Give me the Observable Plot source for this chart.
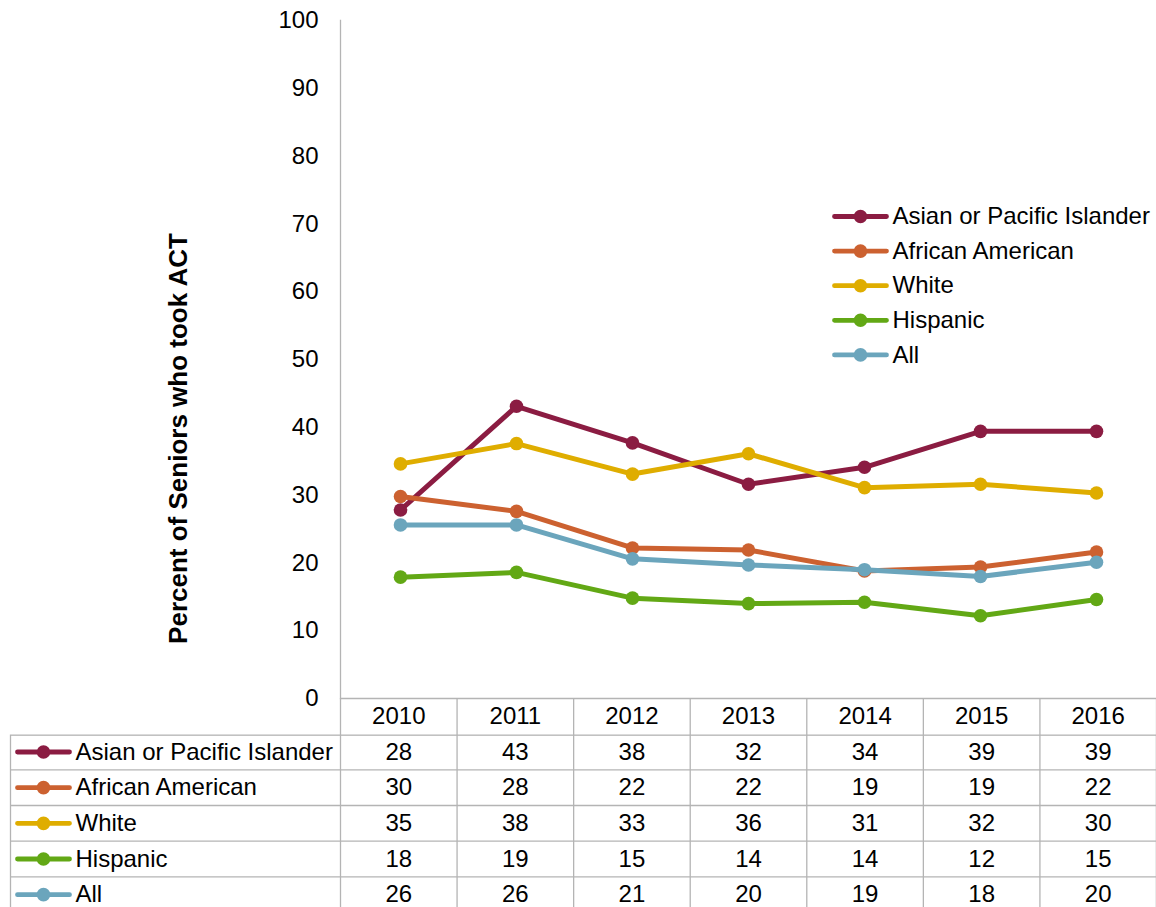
<!DOCTYPE html>
<html>
<head>
<meta charset="utf-8">
<script src="https://cdn.jsdelivr.net/npm/d3@7"></script>
<script src="https://cdn.jsdelivr.net/npm/@observablehq/plot@0.6"></script>
<style>
  html, body { margin: 0; padding: 0; background: #fff; overflow: hidden; }
  #chart svg, #table svg { display: block; }
</style>
</head>
<body>
<div id="chart"></div>
<div id="table"></div>
<script>
// ---- data ----
const years = [2010, 2011, 2012, 2013, 2014, 2015, 2016];
const groups = ["Asian or Pacific Islander", "African American", "White", "Hispanic", "All"];
const colors = ["#8B1C42", "#CC6130", "#DFAD00", "#62A815", "#6BA5BC"];
const asianPacific = [27.8, 43.1, 37.7, 31.6, 34.1, 39.4, 39.4];
const africanAmerican = [29.8, 27.6, 22.2, 21.9, 18.8, 19.4, 21.6];
const white = [34.6, 37.6, 33.1, 36.1, 31.1, 31.6, 30.3];
const hispanic = [17.9, 18.6, 14.8, 14.0, 14.2, 12.2, 14.6];
const all = [25.6, 25.6, 20.6, 19.7, 19.0, 18.0, 20.1];
const yTicks = [0, 10, 20, 30, 40, 50, 60, 70, 80, 90, 100];
const yTitle = "Percent of Seniors who took ACT";

const seriesValues = [asianPacific, africanAmerican, white, hispanic, all];
const rows = groups.flatMap((g, gi) => years.map((yr, i) => ({group: g, year: yr, col: i, row: gi + 1, value: seriesValues[gi][i]})));

const FONT = "'Liberation Sans', Arial, Helvetica, sans-serif";
const GRID = "#b4b4b4";
const FS = 24;

// swatch symbol: line with round ends + circle marker
const swatch = {
  draw(ctx) {
    const half = 26, t = 2.4, r = 6.8;
    ctx.moveTo(-half, -t); ctx.lineTo(half, -t); ctx.lineTo(half, t); ctx.lineTo(-half, t); ctx.closePath();
    ctx.moveTo(half + t, 0); ctx.arc(half, 0, t, 0, 2 * Math.PI);
    ctx.moveTo(-half + t, 0); ctx.arc(-half, 0, t, 0, 2 * Math.PI);
    ctx.moveTo(r, 0); ctx.arc(0, 0, r, 0, 2 * Math.PI);
  }
};

const colorScale = {type: "ordinal", domain: groups, range: colors};
const groupColor = (accessor) => ({value: accessor, scale: "color"});

// ---- chart ----
const seriesMarks = groups.flatMap((g) => {
  const d = rows.filter(r => r.group === g);
  return [
    Plot.line(d, {x: "year", y: "value", stroke: groupColor(r => r.group), strokeWidth: 5, strokeLinejoin: "round", strokeLinecap: "round"}),
    Plot.dot(d, {x: "year", y: "value", fill: groupColor(r => r.group), r: 6.8})
  ];
});

const legendMarks = groups.flatMap((g, i) => [
  Plot.dot([g], {frameAnchor: "top-left", dx: 520, dy: 196 + i * 34.6, fill: groupColor(d => d), symbol: swatch}),
  Plot.text([g], {frameAnchor: "top-left", dx: 552, dy: 196 + i * 34.6, text: d => d, textAnchor: "start", lineAnchor: "middle", fontSize: FS, fill: "#000"})
]);

const chart = Plot.plot({
  width: 1156,
  height: 699,
  marginLeft: 340,
  marginRight: 0,
  marginTop: 20,
  marginBottom: 1,
  style: {fontFamily: FONT, color: "#000", background: "#fff", overflow: "visible"},
  x: {type: "point", domain: years, padding: 0.5, axis: null},
  y: {domain: [0, 100], axis: null},
  color: colorScale,
  marks: [
    Plot.axisY({ticks: yTicks, tickSize: 0, tickPadding: 22, fontSize: FS, label: null, tickFormat: d => String(d)}),
    Plot.frame({anchor: "left", stroke: GRID, strokeWidth: 1.3}),
    Plot.ruleY([0], {stroke: GRID, strokeWidth: 1.3}),
    Plot.text([yTitle], {frameAnchor: "left", dx: -162, dy: 79, rotate: -90, textAnchor: "middle", lineAnchor: "middle", fontWeight: "bold", fontSize: 26, fill: "#000"}),
    ...seriesMarks,
    ...legendMarks
  ]
});
document.getElementById("chart").appendChild(chart);

// ---- table ----
const header = years.map((yr, i) => ({col: i, row: 0, label: String(yr)}));
const cells = rows.map(r => ({col: r.col, row: r.row, label: String(Math.round(r.value))}));
const colEdges = d3.range(-0.5, years.length, 1);
const rowEdges = d3.range(2, groups.length + 1);

const table = Plot.plot({
  width: 1156,
  height: 214,
  marginLeft: 10,
  marginRight: 0,
  marginTop: 214 / (groups.length + 1),
  marginBottom: 0,
  style: {fontFamily: FONT, color: "#000", background: "#fff", overflow: "visible"},
  x: {type: "linear", domain: [-0.5, years.length - 0.5], range: [340, 1156], axis: null},
  y: {type: "linear", domain: [0, groups.length + 1], range: [-1, 213], axis: null},
  color: colorScale,
  marks: [
    Plot.frame({stroke: GRID, strokeWidth: 1.3}),
    Plot.ruleX(colEdges, {y1: 0, y2: groups.length + 1, stroke: GRID, strokeWidth: 1.3}),
    Plot.ruleY(rowEdges, {stroke: GRID, strokeWidth: 1.3}),
    Plot.text(header, {x: "col", y: d => d.row + 0.5, text: "label", fontSize: FS, fill: "#000"}),
    Plot.text(cells, {x: "col", y: d => d.row + 0.5, text: "label", fontSize: FS, fill: "#000"}),
    Plot.dot(groups, {y: (d, i) => i + 1.5, frameAnchor: "left", dx: 33, fill: groupColor(d => d), symbol: swatch}),
    Plot.text(groups, {y: (d, i) => i + 1.5, frameAnchor: "left", dx: 65, text: d => d, textAnchor: "start", fontSize: FS, fill: "#000"})
  ]
});
document.getElementById("table").appendChild(table);
</script>
</body>
</html>
